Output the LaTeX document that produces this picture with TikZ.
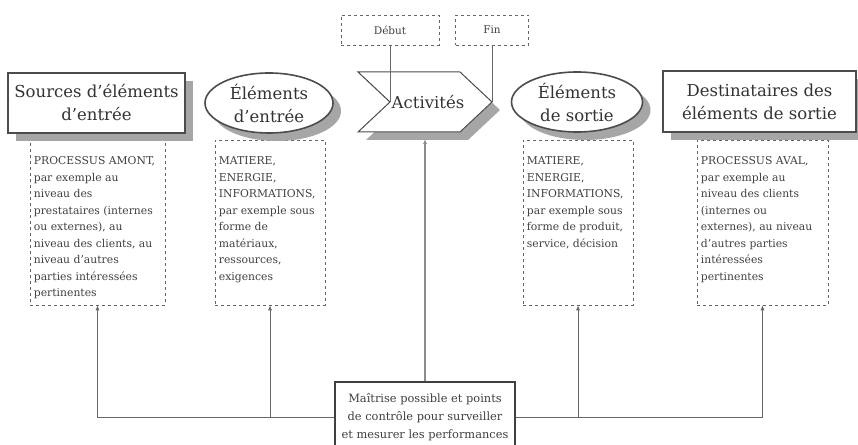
\documentclass[tikz,border=0pt]{standalone}
\usepackage{fontspec}
\setmainfont{DejaVu Serif}
\usetikzlibrary{shapes, arrows.meta, positioning, calc, shadows}

\begin{document}
\begin{tikzpicture}[x=1pt, y=1pt,
  headfont/.style={font=\fontsize{16.5}{23}\selectfont, text=black!80},
  shade/.style={drop shadow={shadow xshift=8pt, shadow yshift=-8pt, fill=black!35, opacity=1}},
  headbox/.style={headfont, draw=black!70, line width=1.6pt, fill=white, shade, align=center, inner sep=0pt},
  headoval/.style={headbox, ellipse},
  infobox/.style={draw=black!60, dashed, line width=0.6pt, minimum height=165pt, inner sep=0pt},
  infotext/.style={font=\fontsize{10.8}{16.5}\selectfont, text=black!75, align=left, inner sep=0pt, anchor=north west},
  tagbox/.style={draw=black!60, dashed, line width=0.6pt, minimum height=30pt, inner sep=0pt, font=\fontsize{10.5}{12}\selectfont, text=black!75},
  ctrlbox/.style={draw=black!75, line width=1.4pt, fill=white, align=center, minimum width=180pt, minimum height=70pt, inner sep=0pt, font=\fontsize{11.4}{18}\selectfont, text=black!75},
  link/.style={draw=black!60, line width=0.7pt},
  feed/.style={link, -{Latex[length=5pt,width=4pt]}}
]
  \useasboundingbox (0,0) rectangle (858,444);

  % Dashed boxes with the details
  \node[infobox, minimum width=135pt] (srcinfo) at (97.5,221.5) {};
  \node[infobox, minimum width=110pt] (ininfo) at (270,221.5) {};
  \node[infobox, minimum width=110pt] (outinfo) at (578,221.5) {};
  \node[infobox, minimum width=131pt] (dstinfo) at (762.5,221.5) {};

  \node[infotext] (srctext) at ([xshift=4pt,yshift=-17pt]srcinfo.north west)
    {PROCESSUS AMONT,\\par exemple au\\niveau des\\prestataires (internes\\ou externes), au\\niveau des clients, au\\niveau d'autres\\parties intéressées\\pertinentes};
  \node[infotext] (intext) at ([xshift=4pt,yshift=-17pt]ininfo.north west)
    {MATIERE,\\ENERGIE,\\INFORMATIONS,\\par exemple sous\\forme de\\matériaux,\\ressources,\\exigences};
  \node[infotext] (outtext) at ([xshift=4pt,yshift=-17pt]outinfo.north west)
    {MATIERE,\\ENERGIE,\\INFORMATIONS,\\par exemple sous\\forme de produit,\\service, décision};
  \node[infotext] (dsttext) at ([xshift=4pt,yshift=-17pt]dstinfo.north west)
    {PROCESSUS AVAL,\\par exemple au\\niveau des clients\\(internes ou\\externes), au niveau\\d'autres parties\\intéressées\\pertinentes};

  % Headings
  \node[headbox, minimum width=177pt, minimum height=60pt] (src) at (96.5,341) {Sources d'éléments\\d'entrée};
  \node[headoval, minimum width=128pt, minimum height=60pt] (in) at (269,341) {Éléments\\d'entrée};
  \node[headoval, minimum width=131pt, minimum height=60pt] (out) at (577,342) {Éléments\\de sortie};
  \node[headbox, minimum width=193pt, minimum height=61pt] (dst) at (759.5,342.5) {Destinataires des\\éléments de sortie};

  % Activities chevron
  \coordinate (act-a) at (358,372);
  \coordinate (act-b) at (460,372);
  \coordinate (act-tip) at (492,342);
  \coordinate (act-c) at (460,312);
  \coordinate (act-d) at (358,312);
  \coordinate (act-notch) at (390,342);
  \coordinate (act-foot) at (425,305);
  \draw[draw=black!70, line width=1pt, fill=white, shade]
    (act-a) -- (act-b) -- (act-tip) -- (act-c) -- (act-d) -- (act-notch) -- cycle;
  \node[headfont] (act) at (428,342) {Activités};

  % Start and end
  \node[tagbox, minimum width=98pt] (debut) at (390,414) {Début};
  \node[tagbox, minimum width=73pt] (fin) at (492,414) {Fin};
  \draw[link, line width=0.5pt] (debut.south) -- (act-notch);
  \draw[link, line width=0.5pt] (fin.south) -- (act-tip);

  % Control links
  \node[ctrlbox] (ctrl) at (425,27) {Maîtrise possible et points\\de contrôle pour surveiller\\et mesurer les performances};
  \draw[feed] (ctrl.west) -| (srcinfo.south);
  \draw[feed] (ctrl.east) -| (dstinfo.south);
  \draw[feed] (ininfo.south |- ctrl.west) -- (ininfo.south);
  \draw[feed] (outinfo.south |- ctrl.east) -- (outinfo.south);
  \draw[feed, draw=black!45, line width=1.3pt] (ctrl.north) -- (act-foot);
\end{tikzpicture}
\end{document}
